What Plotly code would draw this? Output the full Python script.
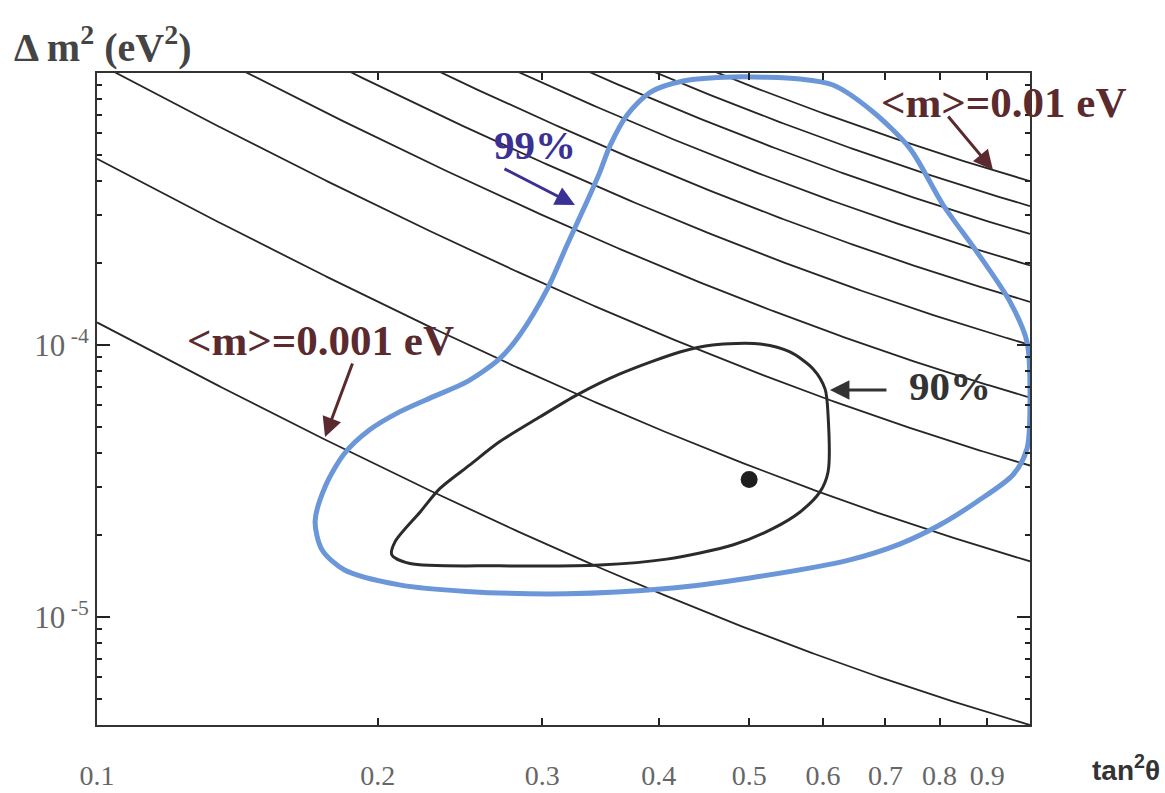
import numpy as np
import plotly.graph_objects as go

# Effective Majorana mass values <m> (eV) for the iso-mass curves
mass_values = [0.001, 0.002, 0.003, 0.004, 0.005, 0.006, 0.007, 0.008, 0.009, 0.010]

# 99% C.L. allowed region (closed contour)
cl99_tan2 = [1.000, 0.9926, 0.952, 0.877, 0.807, 0.744, 0.679, 0.615, 0.567, 0.481,
             0.425, 0.392, 0.370, 0.355, 0.346, 0.335, 0.319, 0.304, 0.284, 0.270,
             0.249, 0.229, 0.211, 0.196, 0.184, 0.1756, 0.1713, 0.1743, 0.184, 0.211,
             0.249, 0.319, 0.408, 0.501, 0.641, 0.726, 0.801, 0.877, 0.959, 0.9926, 1.000]
cl99_dm2 = [6.17e-5, 1.026e-4, 1.44e-4, 2.20e-4, 3.27e-4, 5.26e-4, 7.19e-4, 9.03e-4, 9.50e-4, 9.67e-4,
            9.35e-4, 8.51e-4, 7.01e-4, 5.44e-4, 4.33e-4, 3.36e-4, 2.33e-4, 1.61e-4, 1.09e-4, 8.88e-5,
            7.31e-5, 6.44e-5, 5.67e-5, 4.87e-5, 3.97e-5, 3.01e-5, 2.24e-5, 1.76e-5, 1.49e-5, 1.31e-5,
            1.24e-5, 1.215e-5, 1.27e-5, 1.39e-5, 1.62e-5, 1.855e-5, 2.18e-5, 2.65e-5, 3.33e-5, 4.15e-5, 6.17e-5]

# 90% C.L. allowed region (closed contour)
cl90_tan2 = [0.6075, 0.6075, 0.5955, 0.567, 0.530, 0.481, 0.408, 0.346, 0.270, 0.2165,
             0.207, 0.2087, 0.222, 0.233, 0.251, 0.270, 0.2985, 0.327, 0.3635, 0.4215,
             0.457, 0.5137, 0.553, 0.5855, 0.603, 0.6075]
cl90_dm2 = [5.53e-5, 3.41e-5, 2.88e-5, 2.43e-5, 2.11e-5, 1.84e-5, 1.63e-5, 1.55e-5, 1.54e-5, 1.57e-5,
            1.69e-5, 1.89e-5, 2.43e-5, 2.96e-5, 3.62e-5, 4.40e-5, 5.44e-5, 6.55e-5, 7.82e-5, 9.42e-5,
            1.0e-4, 1.008e-4, 9.42e-5, 8.16e-5, 6.89e-5, 5.53e-5]

# Best-fit point
best_tan2 = [0.5]
best_dm2 = [3.2e-5]

# Axis ticks
x_tick_vals = [0.1, 0.2, 0.3, 0.4, 0.5, 0.6, 0.7, 0.8, 0.9]
x_tick_text = ["0.1", "0.2", "0.3", "0.4", "0.5", "0.6", "0.7", "0.8", "0.9"]
y_tick_vals = [1e-5, 1e-4]
y_tick_text = ["10<sup> -5</sup>", "10<sup> -4</sup>"]

X_RANGE = [-1.0, 0.0]
Y_RANGE = [np.log10(4e-6), -3.0]

fig = go.Figure()

# Iso-<m> curves: <m> = sqrt(dm2) * sin^2(theta), with sin^2 = tan^2 / (1 + tan^2)
t_grid = np.logspace(-1, 0, 300)
for m in mass_values:
    dm2 = (m * (1.0 + t_grid) / t_grid) ** 2
    fig.add_trace(go.Scatter(x=t_grid, y=dm2, mode="lines",
                             line=dict(color="#262626", width=1.8),
                             hoverinfo="skip", showlegend=False))

fig.add_trace(go.Scatter(x=cl99_tan2, y=cl99_dm2, mode="lines",
                         line=dict(color="#6b97d8", width=5, shape="spline", smoothing=0.8),
                         showlegend=False))
fig.add_trace(go.Scatter(x=cl90_tan2, y=cl90_dm2, mode="lines",
                         line=dict(color="#2b2b2b", width=3, shape="spline", smoothing=0.8),
                         showlegend=False))
fig.add_trace(go.Scatter(x=best_tan2, y=best_dm2, mode="markers",
                         marker=dict(color="#1e1e1e", size=17),
                         showlegend=False))

serif = "Liberation Serif, Times New Roman, serif"
maroon = "#5a2a2e"
indigo = "#3b3093"

annotations = [
    # labels
    dict(text="<b>&lt;m&gt;=0.001 eV</b>", x=0.240, y=0.589, xref="paper", yref="paper",
         xanchor="center", yanchor="middle", showarrow=False,
         font=dict(family=serif, size=43, color=maroon)),
    dict(text="<b>&lt;m&gt;=0.01 eV</b>", x=0.972, y=0.9555, xref="paper", yref="paper",
         xanchor="center", yanchor="middle", showarrow=False,
         font=dict(family=serif, size=43, color=maroon)),
    dict(text="<b>99%</b>", x=0.4695, y=0.8896, xref="paper", yref="paper",
         xanchor="center", yanchor="middle", showarrow=False,
         font=dict(family=serif, size=41, color=indigo)),
    dict(text="<b>90%</b>", x=0.914, y=0.520, xref="paper", yref="paper",
         xanchor="center", yanchor="middle", showarrow=False,
         font=dict(family=serif, size=41, color="#333333")),
    # arrows
    dict(text="", x=0.2444, y=0.4417, xref="paper", yref="paper", ax=28, ay=-75,
         showarrow=True, arrowhead=2, arrowsize=1.3, arrowwidth=3, arrowcolor=maroon),
    dict(text="", x=0.9603, y=0.8512, xref="paper", yref="paper", ax=-46, ay=-55,
         showarrow=True, arrowhead=2, arrowsize=1.3, arrowwidth=3, arrowcolor=maroon),
    dict(text="", x=0.5123, y=0.7975, xref="paper", yref="paper", ax=-72, ay=-37,
         showarrow=True, arrowhead=2, arrowsize=1.3, arrowwidth=3, arrowcolor=indigo),
    dict(text="", x=0.7856, y=0.5138, xref="paper", yref="paper", ax=58, ay=0,
         showarrow=True, arrowhead=2, arrowsize=1.3, arrowwidth=3, arrowcolor="#333333"),
    # axis titles
    dict(text="<b>Δ m<sup>2</sup> (eV<sup>2</sup>)</b>", x=-0.0911, y=1.043, xref="paper", yref="paper",
         xanchor="left", yanchor="middle", showarrow=False,
         font=dict(family=serif, size=40, color="#444444")),
    dict(text="<b>tan<sup>2</sup>θ</b>", x=1.064, y=-0.066, xref="paper", yref="paper",
         xanchor="left", yanchor="middle", showarrow=False,
         font=dict(family="Liberation Sans Narrow, Liberation Sans, sans-serif", size=28, color="#333333")),
]

minor_y = [k * 10.0 ** e for e in (-6, -5, -4) for k in range(2, 10) if 4e-6 <= k * 10.0 ** e <= 1e-3]

fig.update_layout(
    width=1165, height=793,
    margin=dict(l=97, r=135, t=73, b=68),
    paper_bgcolor="white", plot_bgcolor="white",
    annotations=annotations,
    xaxis=dict(type="log", range=X_RANGE, tickmode="array", automargin=False,
               tickvals=x_tick_vals, ticktext=x_tick_text,
               ticks="inside", ticklen=7, tickwidth=1.5, tickcolor="#222",
               showline=True, linecolor="#333", linewidth=2, mirror="allticks",
               showgrid=False, zeroline=False, ticklabelstandoff=24,
               tickfont=dict(family=serif, size=28, color="#666666")),
    yaxis=dict(type="log", range=Y_RANGE, tickmode="array", automargin=False,
               tickvals=y_tick_vals, ticktext=y_tick_text,
               ticks="inside", ticklen=13, tickwidth=1.5, tickcolor="#222",
               minor=dict(ticks="inside", ticklen=5, tickcolor="#222", tickvals=minor_y),
               showline=True, linecolor="#333", linewidth=2, mirror="allticks",
               showgrid=False, zeroline=False,
               tickfont=dict(family=serif, size=31, color="#666666")),
)

fig.write_html("out.html")
